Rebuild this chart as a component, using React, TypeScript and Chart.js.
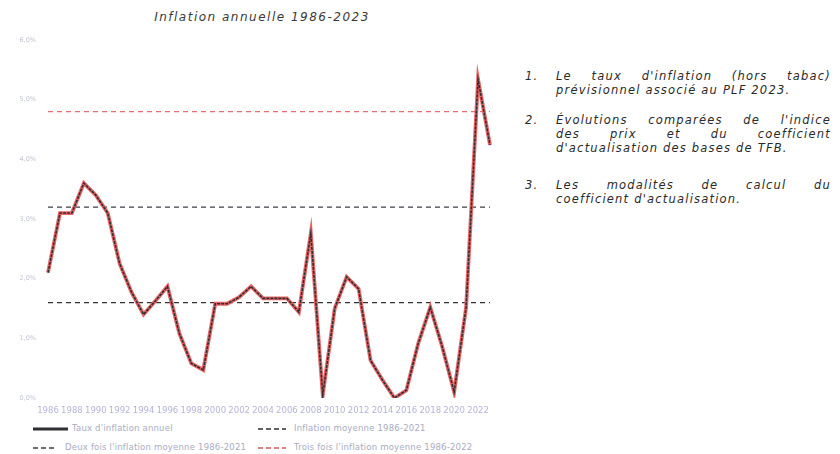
import React, { useEffect, useRef } from "react";
import { Chart, registerables } from "chart.js";

Chart.register(...registerables);

const years: string[] = [
  "1986", "1987", "1988", "1989", "1990", "1991", "1992", "1993", "1994", "1995",
  "1996", "1997", "1998", "1999", "2000", "2001", "2002", "2003", "2004", "2005",
  "2006", "2007", "2008", "2009", "2010", "2011", "2012", "2013", "2014", "2015",
  "2016", "2017", "2018", "2019", "2020", "2021", "2022", "2023",
];

const inflation: number[] = [
  2.1, 3.1, 3.1, 3.6, 3.4, 3.1, 2.25, 1.77, 1.4, 1.63,
  1.87, 1.08, 0.58, 0.47, 1.58, 1.58, 1.69, 1.87, 1.67, 1.67,
  1.67, 1.44, 2.76, 0.05, 1.5, 2.03, 1.83, 0.63, 0.3, 0.0,
  0.13, 0.92, 1.52, 0.86, 0.1, 1.52, 5.34, 4.24,
];

const avgInflation = 1.6;
const twiceAvg = 3.2;
const thriceAvg = 4.8;

const yTicks: number[] = [0, 1, 2, 3, 4, 5, 6];

const legendLabels: string[] = [
  "Taux d'inflation annuel",
  "Inflation moyenne 1986-2021",
  "Deux fois l'inflation moyenne 1986-2021",
  "Trois fois l'inflation moyenne 1986-2022",
];

const titleText = "Inflation annuelle 1986-2023";

const notes: { num: string; lines: string[] }[] = [
  { num: "1.", lines: ["Le taux d'inflation (hors tabac)", "prévisionnel associé au PLF 2023."] },
  {
    num: "2.",
    lines: [
      "Évolutions comparées de l'indice",
      "des prix et du coefficient",
      "d'actualisation des bases de TFB.",
    ],
  },
  { num: "3.", lines: ["Les modalités de calcul du", "coefficient d'actualisation."] },
];

const RED = "rgba(232,92,92,0.95)";
const DARK = "#2f2f33";

function LegendSample({ kind }: { kind: number }) {
  const w = kind === 0 ? 35 : kind === 2 ? 22 : 28;
  let stroke = DARK;
  let dash = "5 3";
  let sw = 1.5;
  if (kind === 0) {
    dash = "";
    sw = 3;
  } else if (kind === 3) {
    stroke = "#d85a5a";
  } else if (kind === 2) {
    stroke = "#3d3f48";
  }
  return (
    <svg width={w} height={6} style={{ display: "inline-block", verticalAlign: "middle" }}>
      <line x1={0} y1={3} x2={w} y2={3} stroke={stroke} strokeWidth={sw} strokeDasharray={dash} />
    </svg>
  );
}

export default function App() {
  const ref = useRef<HTMLCanvasElement | null>(null);

  useEffect(() => {
    if (!ref.current) return;
    const chart = new Chart(ref.current, {
      type: "line",
      data: {
        labels: years,
        datasets: [
          {
            label: legendLabels[0],
            data: inflation,
            borderColor: DARK,
            borderWidth: 1.6,
            borderDash: [3, 1],
            pointRadius: 0,
            tension: 0,
          },
          {
            label: "_under",
            data: inflation,
            borderColor: RED,
            borderWidth: 3.8,
            pointRadius: 0,
            tension: 0,
          },
          {
            label: legendLabels[3],
            data: years.map(() => thriceAvg),
            borderColor: "rgba(225,85,85,0.85)",
            borderWidth: 1.3,
            borderDash: [5, 4],
            pointRadius: 0,
          },
          {
            label: legendLabels[2],
            data: years.map(() => twiceAvg),
            borderColor: "#3d3f48",
            borderWidth: 1.3,
            borderDash: [5, 4],
            pointRadius: 0,
          },
          {
            label: legendLabels[1],
            data: years.map(() => avgInflation),
            borderColor: "#333",
            borderWidth: 1.3,
            borderDash: [5, 4],
            pointRadius: 0,
          },
        ],
      },
      options: {
        responsive: false,
        animation: false,
        layout: { padding: { top: 40, right: 10, bottom: 0, left: 0 } },
        plugins: {
          legend: { display: false },
          title: { display: false },
          tooltip: { enabled: false },
        },
        scales: {
          x: {
            grid: { display: false, drawTicks: false },
            border: { display: false },
            afterFit: (scale: any) => {
              scale.height = 22;
            },
            ticks: {
              autoSkip: false,
              maxRotation: 0,
              minRotation: 0,
              padding: 8,
              color: "#b4b4dc",
              font: { family: "DejaVu Sans", size: 8.5 },
              callback: (_v: any, i: number) => (i % 2 === 0 ? years[i] : ""),
            },
          },
          y: {
            min: 0,
            max: 6,
            grid: { display: false, drawTicks: false },
            border: { display: false },
            afterFit: (scale: any) => {
              scale.width = 48;
            },
            afterBuildTicks: (scale: any) => {
              scale.ticks = yTicks.map((v) => ({ value: v }));
            },
            ticks: {
              padding: 12,
              color: "#c0c4d8",
              font: { family: "DejaVu Sans", size: 6.5 },
              callback: (v: any) => Number(v).toFixed(1).replace(".", ",") + "%",
            },
          },
        },
      },
    });
    return () => chart.destroy();
  }, []);

  const noteTops = [69, 113, 178];
  const noteFont = {
    fontStyle: "italic",
    fontSize: 11.5,
    letterSpacing: 1.2,
    color: "#2a2a2a",
    lineHeight: "14px",
  };

  return (
    <div
      style={{
        position: "absolute",
        left: 0,
        top: 0,
        width: 840,
        height: 454,
        background: "#fff",
        overflow: "hidden",
        fontFamily: "'DejaVu Sans', sans-serif",
      }}
    >
      <div
        style={{
          position: "absolute",
          left: 112,
          width: 300,
          top: 10,
          textAlign: "center",
          fontStyle: "italic",
          fontSize: 12,
          color: "#3a3a3a",
          letterSpacing: 1.5,
        }}
      >
        {titleText}
      </div>
      <canvas
        ref={ref}
        width={500}
        height={420}
        style={{ position: "absolute", left: 0, top: 0, width: 500, height: 420 }}
      />
      {[0, 1, 2, 3].map((k) => {
        const left = k % 2 === 0 ? 33 : 258;
        const top = k < 2 ? 422 : 441;
        return (
          <div
            key={k}
            style={{
              position: "absolute",
              left,
              top,
              height: 12,
              whiteSpace: "nowrap",
              fontSize: 8.5,
              letterSpacing: 0.2,
              color: "#a8acc4",
              lineHeight: "12px",
            }}
          >
            <LegendSample kind={k} />
            <span style={{ marginLeft: k === 0 ? 4 : k === 2 ? 10 : 8 }}>{legendLabels[k]}</span>
          </div>
        );
      })}
      {notes.map((n, i) => (
        <div key={i} style={{ position: "absolute", left: 525, top: noteTops[i], width: 310 }}>
          <div style={{ position: "absolute", left: 0, top: 0, ...noteFont } as any}>{n.num}</div>
          <div style={{ position: "absolute", left: 31, top: 0, width: 275 }}>
            {n.lines.map((ln, j) => {
              const last = j === n.lines.length - 1;
              return (
                <div
                  key={j}
                  style={{
                    ...noteFont,
                    whiteSpace: "nowrap",
                    textAlign: last ? "left" : "justify",
                    textAlignLast: last ? "left" : "justify",
                  } as any}
                >
                  {ln}
                </div>
              );
            })}
          </div>
        </div>
      ))}
    </div>
  );
}
